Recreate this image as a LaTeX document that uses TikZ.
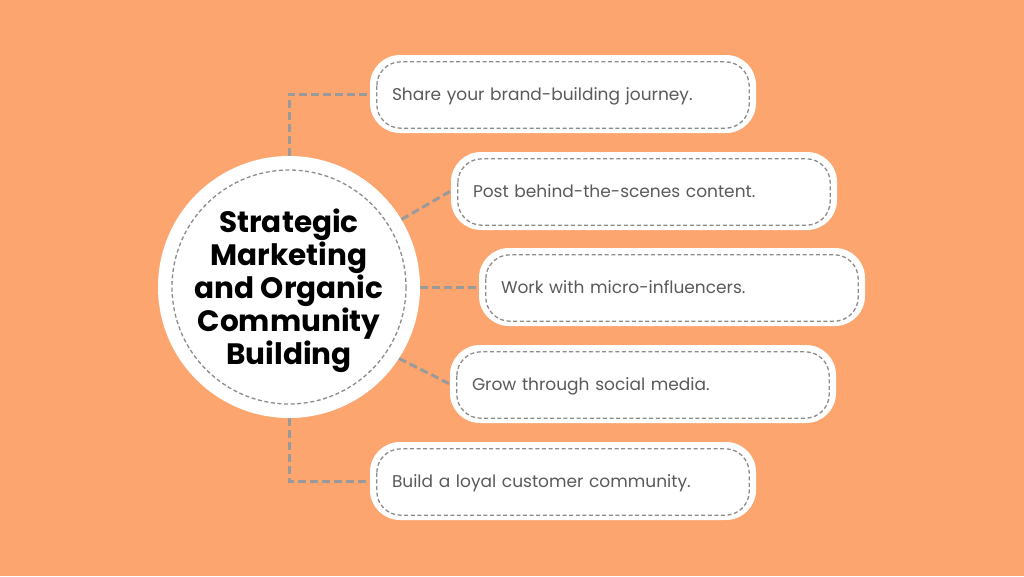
\documentclass[tikz,border=0pt]{standalone}
\usepackage{fontspec}
\setmainfont{Poppins}
\usetikzlibrary{calc}
\definecolor{bgorange}{HTML}{FCA56F}
\definecolor{linegray}{HTML}{9A9A9A}
\definecolor{dashgray}{HTML}{8C8C8C}
\definecolor{txtgray}{HTML}{5A5A5A}
\tikzset{
  boxnode/.style={draw=none, fill=white, rounded corners=30pt, minimum height=78pt,
    text width=342pt, inner xsep=22pt, align=left, text height=13.5pt, text depth=0pt,
    font=\fontsize{17}{20}\selectfont, text=txtgray},
  innerdash/.style={draw=dashgray, line width=1.3pt, dash pattern=on 4pt off 2.6pt},
  connector/.style={draw=linegray, line width=3pt, dash pattern=on 8pt off 4pt},
  hub/.style={circle, fill=white, minimum size=262pt, inner sep=0pt},
  hubtext/.style={align=center, inner sep=0pt,
    font=\bfseries\fontsize{29.5}{33}\selectfont, text=black}
}
\begin{document}
\begin{tikzpicture}[x=1pt,y=-1pt]
\useasboundingbox (0,0) rectangle (1024,576);
\fill[bgorange] (0,0) rectangle (1024,576);
\coordinate (cc) at (289,287);
\node[hub] (c) at (cc) {};
\node[hubtext] (t) at (289,291) {Strategic\\Marketing\\and Organic\\Community\\Building};
\node[boxnode] (b1) at (563,94) {Share your brand-building journey.};
\node[boxnode] (b2) at (644,191) {Post behind-the-scenes content.};
\node[boxnode] (b3) at (672,287) {Work with micro-influencers.};
\node[boxnode] (b4) at (643,384) {Grow through social media.};
\node[boxnode] (b5) at (563,481) {Build a loyal customer community.};
\draw[connector] (c.north) |- (b1.west);
\draw[connector] (c.31) -- (b2.west);
\draw[connector] (c.east) -- (b3.west);
\draw[connector] (c.-33) -- (b4.west);
\draw[connector] (c.south) |- (b5.west);
\draw[innerdash] (cc) circle (117);
\foreach \n in {b1,b2,b3,b4,b5}{
  \draw[innerdash, rounded corners=24pt] ($(\n.north west)+(7,7)$) rectangle ($(\n.south east)+(-7,-5)$);
}
\end{tikzpicture}
\end{document}
